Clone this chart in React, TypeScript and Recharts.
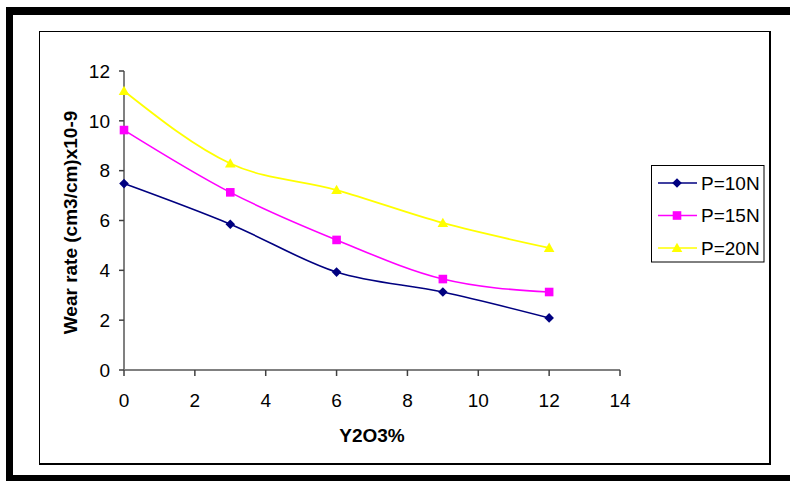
import React from 'react';
import { LineChart, Line, XAxis, YAxis, Legend } from 'recharts';

const FONT = '"Liberation Sans", Arial, sans-serif';

// ---- data ----
const xValues = [0, 3, 6, 9, 12];
const p10 = [7.48, 5.85, 3.93, 3.13, 2.09];
const p15 = [9.63, 7.13, 5.22, 3.65, 3.13];
const p20 = [11.2, 8.29, 7.22, 5.9, 4.9];
const seriesNames = ['P=10N', 'P=15N', 'P=20N'];
const xTicks = [0, 2, 4, 6, 8, 10, 12, 14];
const yTicks = [0, 2, 4, 6, 8, 10, 12];
const xTitle = 'Y2O3%';
const yTitle = 'Wear rate (cm3/cm)x10-9';

const data = xValues.map((x, i) => ({ x, p10: p10[i], p15: p15[i], p20: p20[i] }));

const COLORS = ['#000080', '#FF00FF', '#FFFF00'];
const KEYS = ['p10', 'p15', 'p20'];
const SHAPES = ['diamond', 'square', 'triangle'];

function markerPath(shape: string, cx: number, cy: number): string {
  if (shape === 'diamond') {
    const r = 4.8;
    return `M${cx},${cy - r}L${cx + r},${cy}L${cx},${cy + r}L${cx - r},${cy}Z`;
  }
  if (shape === 'square') {
    const h = 4.3;
    return `M${cx - h},${cy - h}L${cx + h},${cy - h}L${cx + h},${cy + h}L${cx - h},${cy + h}Z`;
  }
  const w = 5.3;
  return `M${cx},${cy - 5.3}L${cx + w},${cy + 4}L${cx - w},${cy + 4}Z`;
}

const makeDot = (idx: number) => (props: any) => {
  const { cx, cy, index } = props;
  if (cx == null || cy == null) return <g key={`d${idx}-${index}`} />;
  return (
    <path
      key={`d${idx}-${index}`}
      d={markerPath(SHAPES[idx], cx, cy)}
      fill={COLORS[idx]}
      stroke="none"
    />
  );
};

const LegendContent = () => (
  <svg width={114} height={98} style={{ display: 'block' }}>
    <rect x={0.5} y={0.5} width={112.5} height={96.5} fill="#fff" stroke="#000" strokeWidth={1} />
    {seriesNames.map((name, i) => {
      const cy = 18 + i * 32.5;
      return (
        <g key={name}>
          <line x1={7} x2={46} y1={cy} y2={cy} stroke={COLORS[i]} strokeWidth={1.5} />
          <path d={markerPath(SHAPES[i], 26, cy)} fill={COLORS[i]} />
          <text
            x={50}
            y={cy}
            dominantBaseline="central"
            fontFamily={FONT}
            fontSize={19}
            fill="#000"
          >
            {name}
          </text>
        </g>
      );
    })}
  </svg>
);

const YTitle = (props: any) => {
  const vb = props.viewBox || { x: 0, y: 0, width: 0, height: 0 };
  const x = vb.x + 6;
  const y = vb.y + vb.height / 2 + 2;
  return (
    <text
      x={x}
      y={y}
      transform={`rotate(-90 ${x} ${y})`}
      textAnchor="middle"
      dominantBaseline="central"
      fontFamily={FONT}
      fontWeight="bold"
      fontSize={19}
      fill="#000"
    >
      {yTitle}
    </text>
  );
};

const XTitle = (props: any) => {
  const vb = props.viewBox || { x: 0, y: 0, width: 0, height: 0 };
  const x = vb.x + vb.width / 2;
  const y = vb.y + 65;
  return (
    <text
      x={x}
      y={y}
      textAnchor="middle"
      dominantBaseline="central"
      fontFamily={FONT}
      fontWeight="bold"
      fontSize={19}
      fill="#000"
    >
      {xTitle}
    </text>
  );
};

export default function App() {
  return (
    <div
      style={{
        position: 'absolute',
        left: 0,
        top: 0,
        width: 790,
        height: 483,
        background: '#fff',
        overflow: 'hidden',
        fontFamily: FONT,
      }}
    >
      {/* outer thick frame */}
      <div
        style={{
          position: 'absolute',
          left: 6,
          top: 7,
          width: 820,
          height: 474,
          boxSizing: 'border-box',
          borderLeft: '7px solid #000',
          borderTop: '8px solid #000',
          borderBottom: '6px solid #000',
        }}
      />
      {/* inner chart-area frame */}
      <div
        style={{
          position: 'absolute',
          left: 39,
          top: 31,
          width: 732,
          height: 434,
          boxSizing: 'border-box',
          borderLeft: '1px solid #000',
          borderTop: '1px solid #000',
          borderRight: '2px solid #000',
          borderBottom: '2px solid #000',
        }}
      />
      <div style={{ position: 'absolute', left: 0, top: 0 }}>
        <LineChart
          width={790}
          height={483}
          data={data}
          margin={{ top: 71, right: 170, bottom: 73, left: 64 }}
        >
          <XAxis
            dataKey="x"
            type="number"
            domain={[0, 14]}
            ticks={xTicks}
            interval={0}
            height={40}
            axisLine={{ stroke: '#808080', strokeWidth: 2 }}
            tickLine={{ stroke: '#404040', strokeWidth: 1.5 }}
            tickSize={6}
            tickMargin={18}
            tick={{ fill: '#000', fontSize: 19, fontFamily: FONT }}
            label={<XTitle />}
          />
          <YAxis
            type="number"
            domain={[0, 12]}
            ticks={yTicks}
            interval={0}
            width={60}
            axisLine={{ stroke: '#808080', strokeWidth: 2 }}
            tickLine={{ stroke: '#404040', strokeWidth: 1.5 }}
            tickSize={5}
            tickMargin={9}
            tick={{ fill: '#000', fontSize: 19, fontFamily: FONT }}
            label={<YTitle />}
          />
          <Legend
            layout="horizontal"
            verticalAlign="middle"
            align="center"
            content={<LegendContent />}
            wrapperStyle={{ left: 651, top: 165, width: 114, height: 98 }}
          />
          {KEYS.map((k, i) => (
            <Line
              key={k}
              dataKey={k}
              name={seriesNames[i]}
              type="monotone"
              stroke={COLORS[i]}
              strokeWidth={i === 2 ? 1.8 : 1.6}
              dot={makeDot(i)}
              activeDot={false}
              isAnimationActive={false}
            />
          ))}
        </LineChart>
      </div>
    </div>
  );
}
